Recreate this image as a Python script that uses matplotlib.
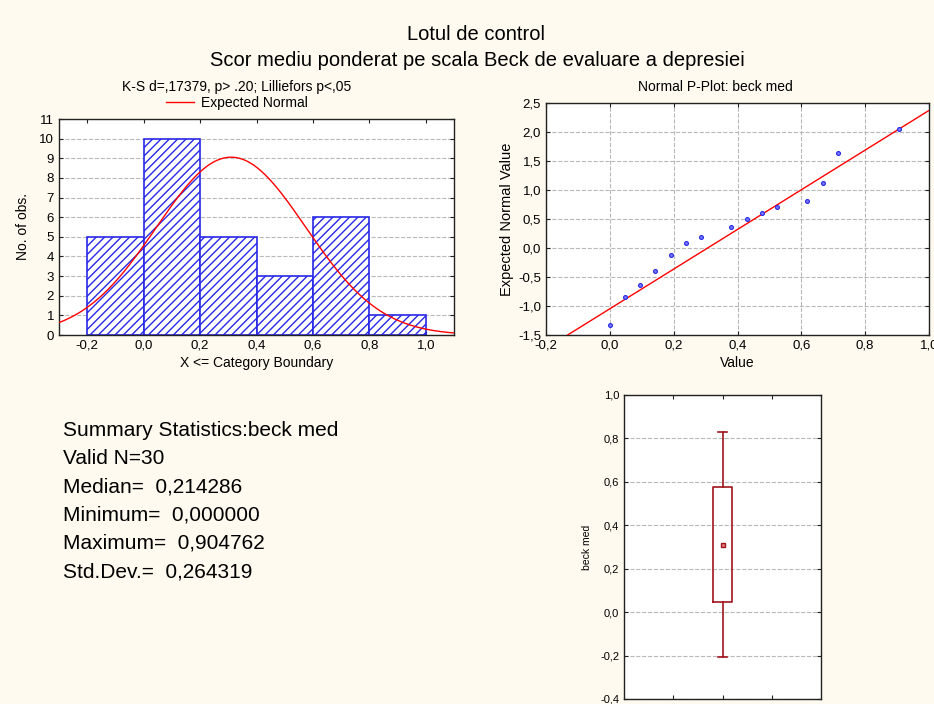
import numpy as np
import matplotlib
matplotlib.use("Agg")
import matplotlib.pyplot as plt
import matplotlib.ticker as mticker
from matplotlib.lines import Line2D

plt.rcParams['font.family'] = ['Liberation Sans', 'DejaVu Sans']
plt.rcParams['hatch.linewidth'] = 1.0

#-- data
bin_edges = [-0.2, 0.0, 0.2, 0.4, 0.6, 0.8, 1.0]
bin_counts = [5, 10, 5, 3, 6, 1]
n_valid = 30
mean_val = 0.31
std_val = 0.264319

pp_values = [0.0, 0.0476, 0.0952, 0.1429, 0.1905, 0.2381, 0.2857, 0.3810,
             0.4286, 0.4762, 0.5238, 0.6190, 0.6667, 0.7143, 0.9048]
pp_expected = [-1.32, -0.84, -0.63, -0.39, -0.115, 0.09, 0.195, 0.37,
               0.505, 0.61, 0.71, 0.815, 1.125, 1.645, 2.06]
pp_slope = 3.42
pp_intercept = -1.048

summary_lines = ["Summary Statistics:beck med", "Valid N=30",
                 "Median=  0,214286", "Minimum=  0,000000",
                 "Maximum=  0,904762", "Std.Dev.=  0,264319"]

bg = '#fffaef'
blue = '#2828e8'
dark_red = '#a0151c'


def comma_fmt(fmt):
    return mticker.FuncFormatter(lambda v, p: (fmt % v).replace('.', ','))


def style_axes(ax, size):
    ax.tick_params(direction='in', length=3, top=True, right=True,
                   labelsize=size, colors='#222222', labelcolor='black')
    for s in ax.spines.values():
        s.set_linewidth(1.0)
        s.set_color('#222222')


fig = plt.figure(figsize=(9.34, 7.04), dpi=100, facecolor=bg)

fig.text(476 / 934, 1 - 35 / 704, "Lotul de control", ha='center', va='center', fontsize=14.5)
fig.text(477 / 934, 1 - 60 / 704, "Scor mediu ponderat pe scala Beck de evaluare a depresiei",
         ha='center', va='center', fontsize=14.5)

#-- histogram
ax1 = fig.add_axes([59 / 934, 1 - 335 / 704, 395 / 934, 216 / 704])
widths = np.diff(bin_edges)
ax1.bar(bin_edges[:-1], bin_counts, width=widths, align='edge', color='white',
        edgecolor=blue, hatch='////', linewidth=1.2, zorder=2)
xs = np.linspace(-0.3, 1.1, 300)
pdf = n_valid * 0.2 / (std_val * np.sqrt(2 * np.pi)) * np.exp(-0.5 * ((xs - mean_val) / std_val) ** 2)
ax1.plot(xs, pdf, color='red', lw=1, zorder=3)
ax1.set_xlim(-0.3, 1.1)
ax1.set_ylim(0, 11)
ax1.set_xticks(bin_edges)
ax1.set_yticks(range(0, 12))
ax1.xaxis.set_major_formatter(comma_fmt('%.1f'))
ax1.yaxis.grid(True, linestyle='--', color='#b8b8b8', lw=0.8, zorder=0)
ax1.set_axisbelow(True)
style_axes(ax1, 9.5)
ax1.set_xlabel("X <= Category Boundary", fontsize=10, labelpad=3)
ax1.set_ylabel("No. of obs.", fontsize=10, labelpad=7)
fig.text(237 / 934, 1 - 87 / 704, "K-S d=,17379, p> .20; Lilliefors p<,05",
         ha='center', va='center', fontsize=10)
fig.legend(handles=[Line2D([], [], color='red', lw=1)], labels=["Expected Normal"],
           loc='center', bbox_to_anchor=(237 / 934, 1 - 103 / 704), frameon=False,
           fontsize=10, handlelength=2.0, handletextpad=0.5, borderpad=0)

#-- normal probability plot
ax2 = fig.add_axes([546 / 934, 1 - 335 / 704, 383 / 934, 232 / 704])
ax2.set_xlim(-0.2, 1.0)
ax2.set_ylim(-1.5, 2.5)
lx = np.array([-0.2, 1.0])
ax2.plot(lx, pp_intercept + pp_slope * lx, color='red', lw=1, zorder=3)
ax2.plot(pp_values, pp_expected, 'o', ms=2.8, mfc='#7a7aff', mec=blue, mew=0.8, zorder=4)
ax2.set_xticks(np.arange(-0.2, 1.01, 0.2))
ax2.set_yticks(np.arange(-1.5, 2.51, 0.5))
ax2.xaxis.set_major_formatter(comma_fmt('%.1f'))
ax2.yaxis.set_major_formatter(comma_fmt('%.1f'))
ax2.grid(True, linestyle='--', color='#b8b8b8', lw=0.8)
ax2.set_axisbelow(True)
style_axes(ax2, 9.5)
ax2.set_xlabel("Value", fontsize=10, labelpad=3)
ax2.set_ylabel("Expected Normal Value", fontsize=10.5, labelpad=3)
fig.text(715 / 934, 1 - 87 / 704, "Normal P-Plot: beck med", ha='center', va='center', fontsize=10)

#-- summary text
for i, line in enumerate(summary_lines):
    fig.text(63 / 934, 1 - (430 + 28.3 * i) / 704, line, ha='left', va='center', fontsize=15)

#-- box plot (mean, +-SD box, +-1.96*SD whiskers)
ax3 = fig.add_axes([624 / 934, 1 - 699 / 704, 197 / 934, 304 / 704])
stats = [{'med': mean_val, 'q1': mean_val - std_val, 'q3': mean_val + std_val,
          'whislo': mean_val - 1.96 * std_val, 'whishi': mean_val + 1.96 * std_val}]
ax3.bxp(stats, positions=[0.5], widths=0.1, showfliers=False,
        boxprops=dict(color=dark_red, lw=1.2),
        whiskerprops=dict(color=dark_red, lw=1.2),
        capprops=dict(color=dark_red, lw=1.2),
        medianprops=dict(lw=0), capwidths=0.05)
ax3.plot([0.5], [mean_val], 's', ms=2.5, mfc='#e08080', mec=dark_red, mew=1)
ax3.set_xlim(0, 1)
ax3.set_ylim(-0.4, 1.0)
ax3.set_xticks([0.25, 0.5, 0.75])
ax3.set_xticklabels([])
ax3.set_yticks(np.arange(-0.4, 1.01, 0.2))
ax3.yaxis.set_major_formatter(comma_fmt('%.1f'))
ax3.yaxis.grid(True, linestyle='--', color='#b8b8b8', lw=0.8)
ax3.set_axisbelow(True)
style_axes(ax3, 8)
ax3.set_ylabel("beck med", fontsize=7.5, labelpad=6)

fig.savefig("out.png", dpi=100, facecolor=bg)
